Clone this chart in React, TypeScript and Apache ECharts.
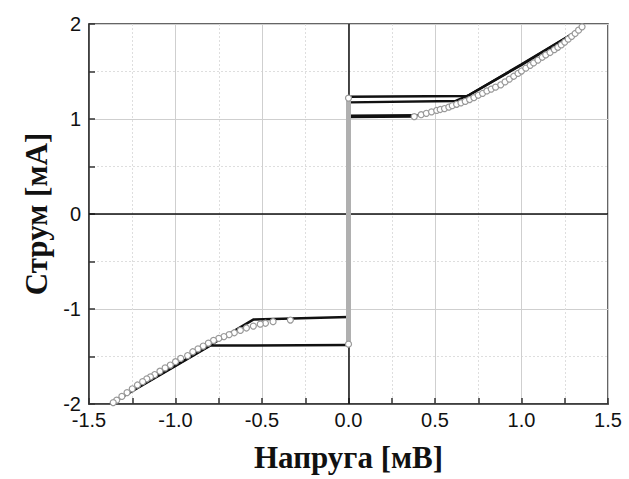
import React, { useEffect, useRef } from "react";
import * as echarts from "echarts";

const xTicks = [-1.5, -1.0, -0.5, 0.0, 0.5, 1.0, 1.5];
const yTicks = [-2, -1, 0, 1, 2];

const blackUpperA = [[0, 1.235], [0.687, 1.242], [1.0, 1.575], [1.353, 1.96]];
const blackUpperB = [[0, 1.175], [0.62, 1.19], [0.7, 1.255], [1.0, 1.57], [1.35, 1.955]];
const blackUpperC = [[0, 1.035], [0.4, 1.04]];
const blackUpperD = [[0, 1.02], [0.38, 1.025]];
const blackLowerA = [[0, -1.085], [-0.548, -1.11], [-0.79, -1.37], [-1.0, -1.595], [-1.37, -1.985]];
const blackLowerB = [[0, -1.38], [-0.8, -1.385], [-1.0, -1.6], [-1.37, -1.99]];

const circlesUpper = [
  [0.38, 1.025], [0.42, 1.045], [0.45, 1.06], [0.48, 1.075], [0.51, 1.09], [0.53, 1.1], [0.555, 1.11],
  [0.58, 1.125], [0.6, 1.14], [0.625, 1.155], [0.65, 1.17], [0.675, 1.185], [0.7, 1.205], [0.725, 1.225],
  [0.75, 1.25], [0.775, 1.27], [0.8, 1.295], [0.825, 1.315], [0.85, 1.335], [0.88, 1.36], [0.905, 1.39],
  [0.93, 1.42], [0.955, 1.45], [0.98, 1.48], [1.0, 1.505], [1.025, 1.535], [1.05, 1.565], [1.07, 1.59],
  [1.095, 1.62], [1.12, 1.65], [1.14, 1.675], [1.165, 1.7], [1.19, 1.73], [1.21, 1.755], [1.23, 1.78],
  [1.25, 1.81], [1.27, 1.84], [1.29, 1.87], [1.31, 1.9], [1.33, 1.935], [1.35, 1.97],
];
const circlesLower = [
  [-0.336, -1.116], [-0.436, -1.133], [-0.48, -1.15], [-0.51, -1.16], [-0.55, -1.18], [-0.59, -1.2],
  [-0.625, -1.225], [-0.66, -1.25], [-0.69, -1.27], [-0.72, -1.29], [-0.75, -1.31], [-0.78, -1.33],
  [-0.81, -1.36], [-0.84, -1.39], [-0.87, -1.42], [-0.9, -1.45], [-0.93, -1.49], [-0.97, -1.52],
  [-1.0, -1.555], [-1.03, -1.59], [-1.06, -1.62], [-1.09, -1.655], [-1.12, -1.69], [-1.145, -1.715],
  [-1.166, -1.735], [-1.19, -1.765], [-1.22, -1.8], [-1.25, -1.84], [-1.28, -1.88], [-1.31, -1.92],
  [-1.34, -1.96], [-1.36, -1.985],
];
const verticalBranch = [[0, -1.37], [0, 1.22]];

export default function App() {
  const ref = useRef<HTMLDivElement>(null);
  useEffect(() => {
    if (!ref.current) return;
    const chart = echarts.init(ref.current, null, { renderer: "svg" });
    const blackLine = (data: number[][]) => ({
      type: "line",
      data,
      showSymbol: false,
      symbol: "none",
      lineStyle: { color: "#111", width: 2.5 },
      z: 3,
    });
    const circleStyle = { color: "#fff", borderColor: "#999", borderWidth: 1.2, opacity: 1 };
    chart.setOption({
      animation: false,
      backgroundColor: "#fff",
      grid: {
        left: 89,
        right: 21,
        top: 24,
        bottom: 75,
        show: true,
        borderColor: "#333",
        borderWidth: 1.5,
        backgroundColor: "transparent",
      },
      xAxis: {
        type: "value",
        min: -1.5,
        max: 1.5,
        interval: 0.5,
        axisLine: { onZero: false, lineStyle: { color: "#333", width: 1.5 } },
        axisTick: { inside: true, length: 6, lineStyle: { color: "#333", width: 1.5 } },
        minorTick: { show: true, splitNumber: 2, length: 6, lineStyle: { color: "#333", width: 1.5 } },
        splitLine: { show: true, lineStyle: { color: "#cfcfcf", width: 1 } },
        minorSplitLine: { show: true, lineStyle: { color: "#dedede", width: 1, type: [2, 2] } },
        axisLabel: {
          formatter: (v: number) => (xTicks.includes(v) ? v.toFixed(1) : ""),
          fontFamily: "Liberation Sans, Arial",
          fontSize: 20,
          color: "#111",
          margin: 6,
        },
        name: "Напруга [мВ]",
        nameLocation: "middle",
        nameGap: 38,
        nameTextStyle: { fontFamily: "Liberation Serif", fontWeight: "bold", fontSize: 31, color: "#111" },
      },
      yAxis: {
        type: "value",
        min: -2,
        max: 2,
        interval: 1,
        axisLine: { onZero: false, show: true, lineStyle: { color: "#333", width: 1.5 } },
        axisTick: { show: true, inside: true, length: 6, lineStyle: { color: "#333", width: 1.5 } },
        minorTick: { show: true, splitNumber: 2, length: 6, lineStyle: { color: "#333", width: 1.5 } },
        splitLine: { show: true, lineStyle: { color: "#cfcfcf", width: 1 } },
        minorSplitLine: { show: true, lineStyle: { color: "#dedede", width: 1, type: [2, 2] } },
        axisLabel: {
          formatter: (v: number) => (yTicks.includes(v) ? String(v) : ""),
          fontFamily: "Liberation Sans, Arial",
          fontSize: 20,
          color: "#111",
          margin: 8,
        },
        name: "Струм [мА]",
        nameLocation: "middle",
        nameGap: 36,
        nameTextStyle: { fontFamily: "Liberation Serif", fontWeight: "bold", fontSize: 31, color: "#111" },
      },
      series: [
        {
          type: "line",
          data: [[-1.5, 0], [1.5, 0]],
          symbol: "none",
          lineStyle: { color: "#111", width: 1.5 },
          z: 2,
          markLine: {
            silent: true,
            symbol: "none",
            label: { show: false },
            lineStyle: { color: "#111", width: 1.5, type: "solid" },
            data: [{ xAxis: 0 }],
          },
        },
        blackLine(blackUpperA),
        blackLine(blackUpperB),
        blackLine(blackUpperC),
        blackLine(blackUpperD),
        blackLine(blackLowerA),
        blackLine(blackLowerB),
        {
          type: "line",
          data: verticalBranch,
          symbol: "circle",
          symbolSize: 6,
          itemStyle: circleStyle,
          lineStyle: { color: "#b0b0b0", width: 5 },
          z: 10,
          zlevel: 0,
        },
        {
          type: "scatter",
          data: circlesUpper,
          symbol: "circle",
          symbolSize: 6,
          itemStyle: circleStyle,
          z: 5,
        },
        {
          type: "scatter",
          data: circlesLower,
          symbol: "circle",
          symbolSize: 6,
          itemStyle: circleStyle,
          z: 5,
        },
      ],
    });
    return () => chart.dispose();
  }, []);
  return <div ref={ref} style={{ width: 629, height: 479, position: "absolute", left: 0, top: 0 }} />;
}
